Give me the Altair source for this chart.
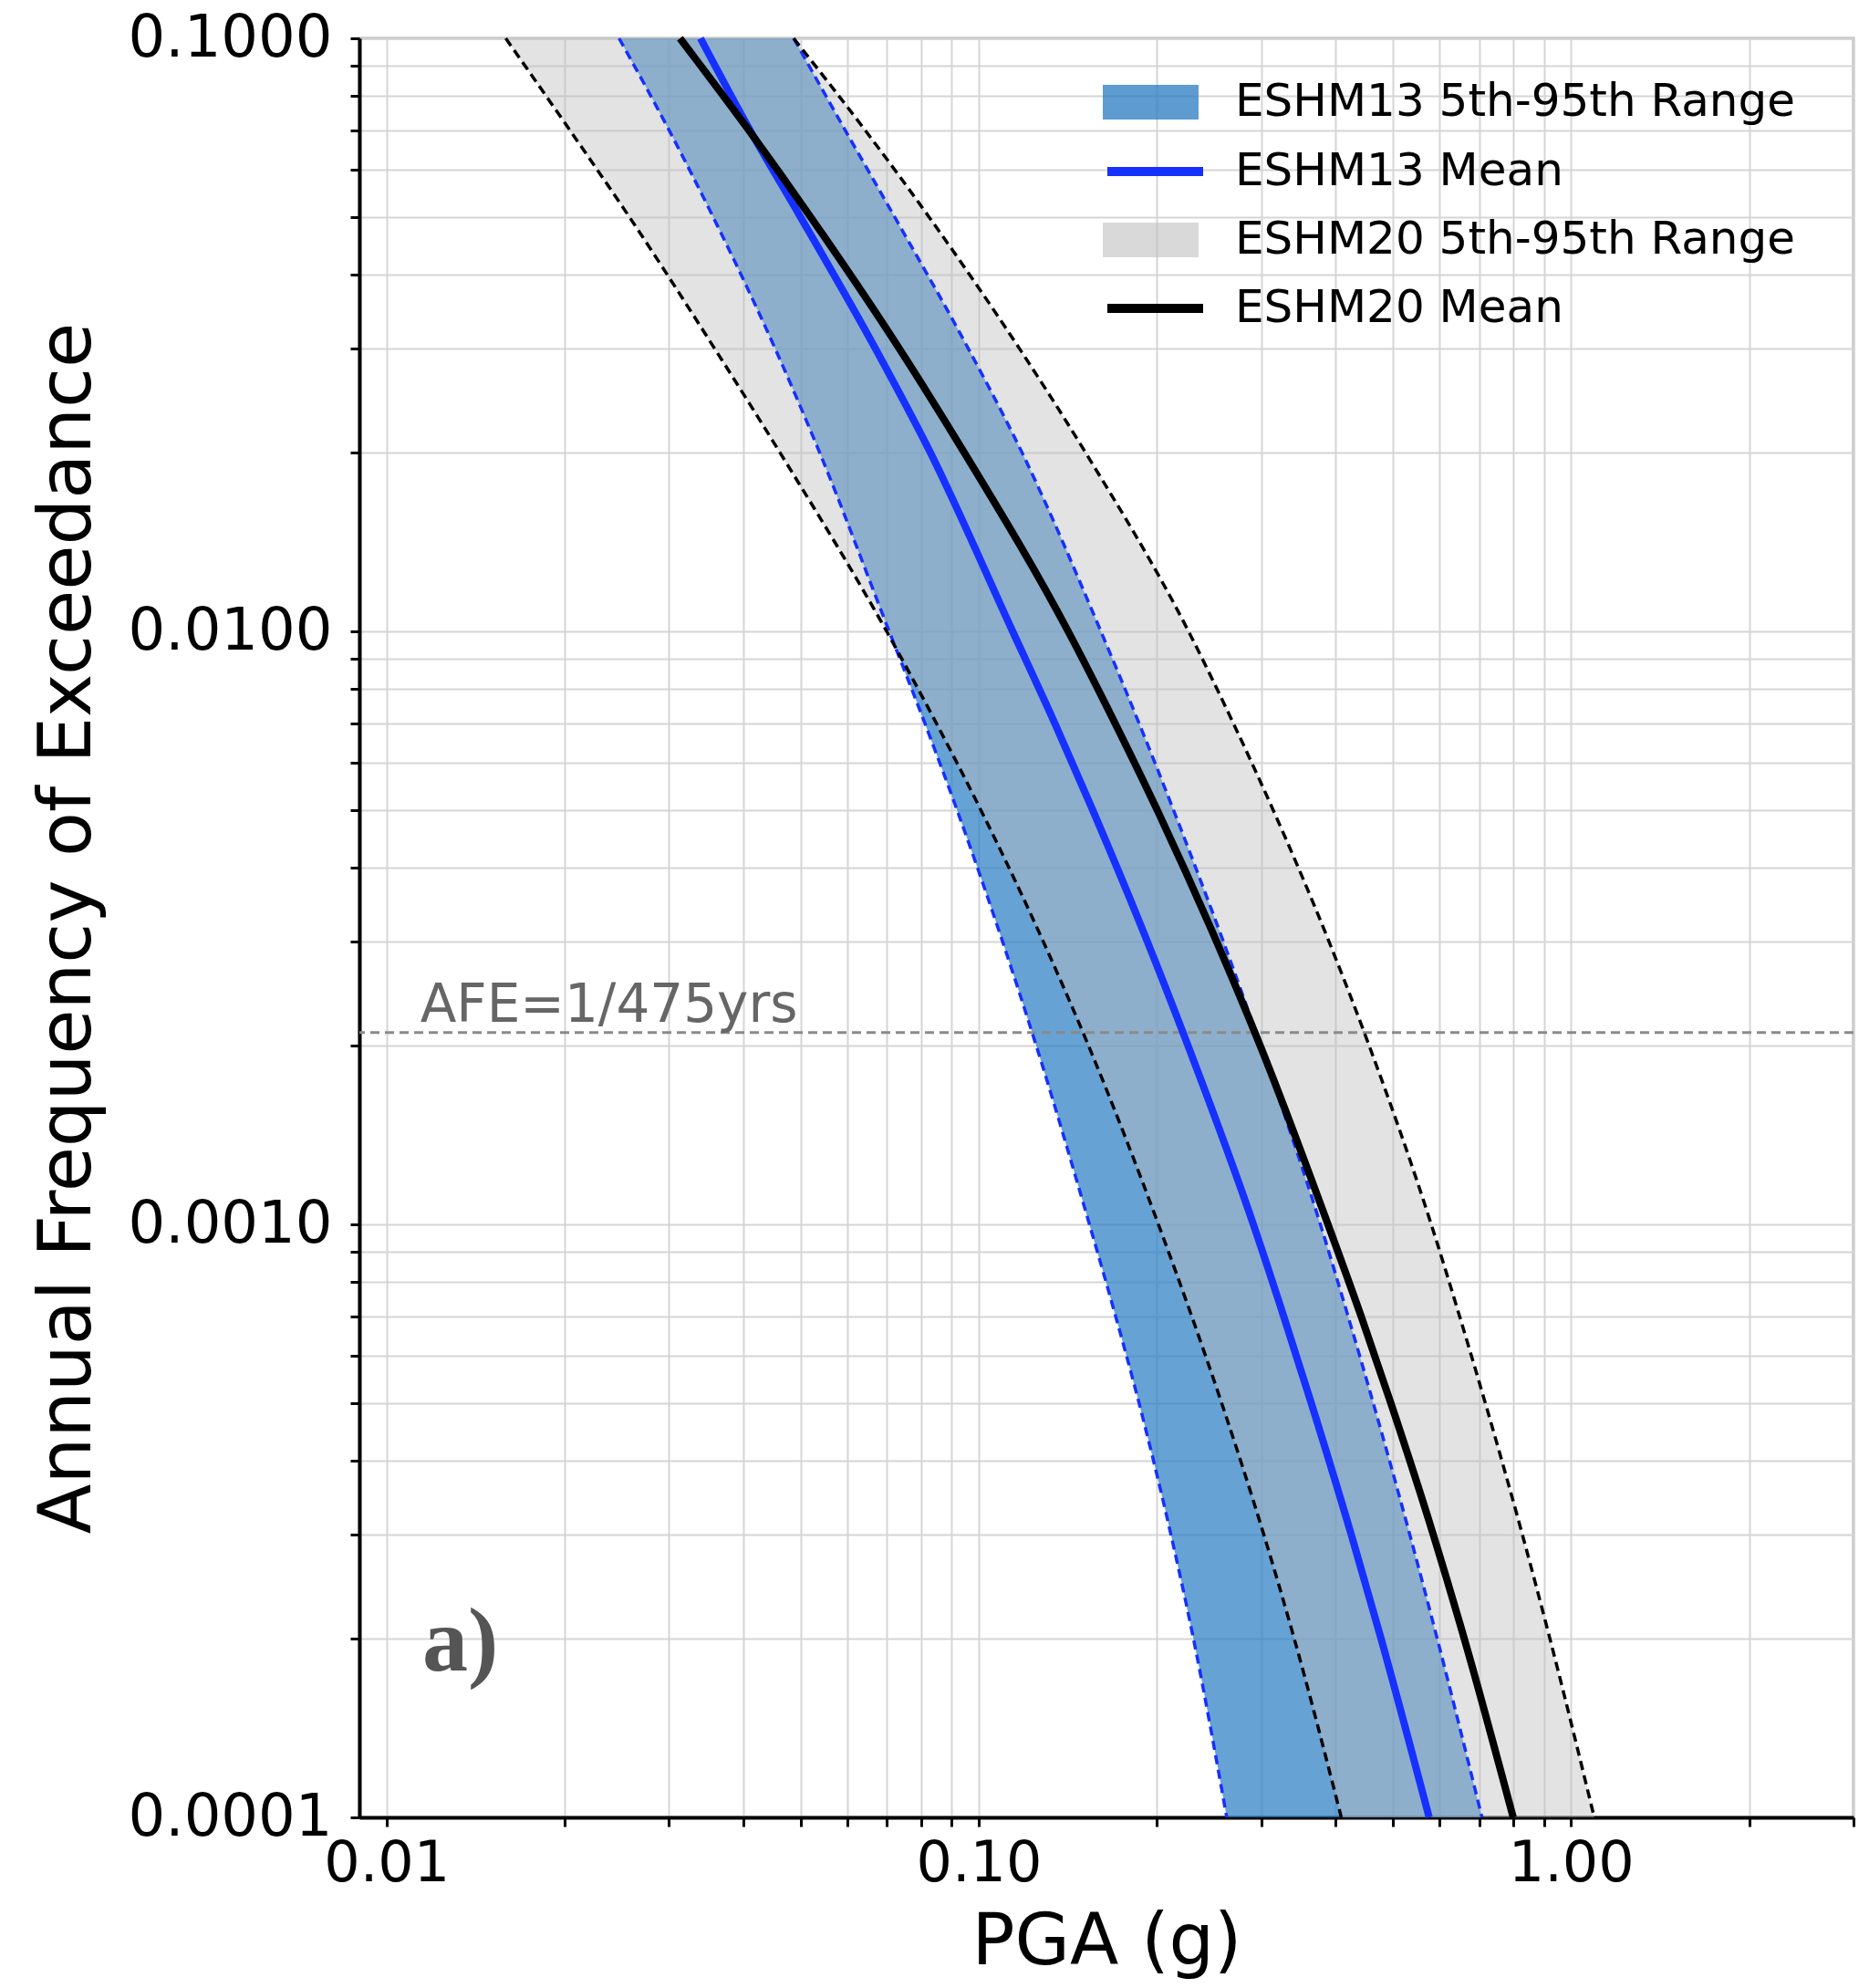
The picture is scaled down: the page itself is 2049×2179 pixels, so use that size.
import altair as alt
import pandas as pd

# ---------------- data ----------------
AFE = [0.1, 0.07, 0.05, 0.03, 0.02, 0.01, 0.007, 0.005, 0.003, 0.002,
       0.001, 0.0007, 0.0005, 0.0003, 0.0002, 0.0001]

ESHM13_P05 = [0.0247, 0.0300, 0.0356, 0.0453, 0.0539, 0.0706, 0.0811, 0.0919, 0.1097, 0.1251,
              0.1538, 0.1703, 0.1865, 0.2111, 0.2305, 0.2623]
ESHM13_MEAN = [0.0339, 0.0411, 0.0500, 0.0669, 0.0829, 0.1141, 0.1344, 0.1557, 0.1926, 0.2257,
               0.2909, 0.3273, 0.3643, 0.4256, 0.4781, 0.5763]
ESHM13_P95 = [0.0487, 0.0595, 0.0721, 0.0960, 0.1184, 0.1608, 0.1865, 0.2132, 0.2588, 0.2992,
              0.3775, 0.4204, 0.4636, 0.5343, 0.5947, 0.7076]

ESHM20_P05 = [0.0159, 0.0204, 0.0257, 0.0358, 0.0462, 0.0699, 0.0848, 0.1008, 0.1285, 0.1533,
              0.2011, 0.2289, 0.2571, 0.3029, 0.3411, 0.4095]
ESHM20_MEAN = [0.0313, 0.0409, 0.0520, 0.0734, 0.0946, 0.1416, 0.1699, 0.2001, 0.2521, 0.2988,
               0.3888, 0.4423, 0.4963, 0.5854, 0.6607, 0.7990]
ESHM20_P95 = [0.0487, 0.0643, 0.0824, 0.1171, 0.1516, 0.2261, 0.2691, 0.3141, 0.3903, 0.4565,
              0.5809, 0.6486, 0.7167, 0.8278, 0.9217, 1.095]

AFE_475 = [0.0021053]          # 1/475 yrs
AFE_LABEL = ["AFE=1/475yrs"]
AFE_LABEL_POS = [0.0114]        # PGA where the label starts
PANEL_LABEL = ["a)"]
PANEL_POS_X = [0.0115]
PANEL_POS_Y = [0.000177]

LEGEND_LABELS = ["ESHM13 5th-95th Range", "ESHM13 Mean", "ESHM20 5th-95th Range", "ESHM20 Mean"]

X_TICKS = [0.01, 0.02, 0.03, 0.04, 0.05, 0.06, 0.07, 0.08, 0.09,
           0.1, 0.2, 0.3, 0.4, 0.5, 0.6, 0.7, 0.8, 0.9, 1, 2, 3]
Y_TICKS = [0.0001, 0.0002, 0.0003, 0.0004, 0.0005, 0.0006, 0.0007, 0.0008, 0.0009,
           0.001, 0.002, 0.003, 0.004, 0.005, 0.006, 0.007, 0.008, 0.009,
           0.01, 0.02, 0.03, 0.04, 0.05, 0.06, 0.07, 0.08, 0.09, 0.1]

n = len(AFE)
bands13 = pd.DataFrame({"AFE": AFE, "lo": ESHM13_P05, "hi": ESHM13_P95,
                        "band": [LEGEND_LABELS[0]] * n})
bands20 = pd.DataFrame({"AFE": AFE, "lo": ESHM20_P05, "hi": ESHM20_P95,
                        "band": [LEGEND_LABELS[2]] * n})
edges13 = pd.DataFrame({"AFE": AFE * 2, "PGA": ESHM13_P05 + ESHM13_P95,
                        "edge": ["p05"] * n + ["p95"] * n})
edges20 = pd.DataFrame({"AFE": AFE * 2, "PGA": ESHM20_P05 + ESHM20_P95,
                        "edge": ["p05"] * n + ["p95"] * n})
mean13 = pd.DataFrame({"AFE": AFE, "PGA": ESHM13_MEAN, "series": [LEGEND_LABELS[1]] * n})
mean20 = pd.DataFrame({"AFE": AFE, "PGA": ESHM20_MEAN, "series": [LEGEND_LABELS[3]] * n})
rule_df = pd.DataFrame({"AFE": AFE_475})
afe_text = pd.DataFrame({"PGA": AFE_LABEL_POS, "AFE": AFE_475, "label": AFE_LABEL})
panel_text = pd.DataFrame({"PGA": PANEL_POS_X, "AFE": PANEL_POS_Y, "label": PANEL_LABEL})

# ---------------- scales / axes ----------------
xs = alt.Scale(type="log", domain=[0.009, 3], nice=False)
ys = alt.Scale(type="log", domain=[0.0001, 0.1], nice=False)

xaxis = alt.Axis(
    title="PGA (g)", values=X_TICKS,
    labelExpr="indexof([0.01, 0.1, 1], datum.value) >= 0 ? format(datum.value, '.2f') : ''",
    tickSize=10, labelFontSize=62, titleFontSize=78, labelPadding=10, titlePadding=17,
    labelOverlap=False, labelFlush=False, grid=True,
)
yaxis = alt.Axis(
    title="Annual Frequency of Exceedance", values=Y_TICKS,
    labelExpr="indexof([0.0001, 0.001, 0.01, 0.1], datum.value) >= 0 ? format(datum.value, '.4f') : ''",
    tickSize=10, labelFontSize=64, titleFontSize=80, labelPadding=20,
    titleX=-279, titleBaseline="bottom",
    labelLimit=400, labelOverlap=False, labelFlush=False, grid=True,
)


def X(field):
    return alt.X(field, type="quantitative", scale=xs, axis=xaxis)


def Y(field):
    return alt.Y(field, type="quantitative", scale=ys, axis=yaxis)


RECT_PATH = "M-1,-0.362H1V0.362H-1Z"


def make_legend(y, kind, opacity=1.0):
    common = dict(
        title=None, orient="none", legendX=815, legendY=y, symbolSize=11025,
        labelFontSize=50, labelFont="DejaVu Sans", labelColor="black", labelLimit=1000,
        clipHeight=40, padding=0, symbolOpacity=opacity,
    )
    if kind == "band":
        return alt.Legend(symbolType=RECT_PATH, symbolStrokeWidth=0, labelOffset=40, **common)
    return alt.Legend(symbolType="stroke", symbolStrokeWidth=10, labelOffset=30, **common)


# ---------------- layers ----------------
band13 = alt.Chart(bands13).mark_area(
    opacity=0.7, interpolate="monotone", orient="horizontal"
).encode(
    y=Y("AFE"), x=X("lo"), x2="hi",
    fill=alt.Fill("band:N", scale=alt.Scale(domain=[LEGEND_LABELS[0]], range=["#277ac2"]),
                  legend=make_legend(50, "band", 0.75)),
)

band20 = alt.Chart(bands20).mark_area(
    opacity=0.44, interpolate="monotone", orient="horizontal"
).encode(
    y=Y("AFE"), x=X("lo"), x2="hi",
    fill=alt.Fill("band:N", scale=alt.Scale(domain=[LEGEND_LABELS[2]], range=["#c0c0c0"]),
                  legend=make_legend(201, "band", 0.6)),
)

rule = alt.Chart(rule_df).mark_rule(
    color="#8a8a8a", strokeDash=[10, 6], strokeWidth=3
).encode(y=Y("AFE"))

edge13 = alt.Chart(edges13).mark_line(
    color="#1530ff", strokeDash=[10, 6], strokeWidth=3.5, interpolate="monotone"
).encode(x=X("PGA"), y=Y("AFE"), detail="edge:N")

edge20 = alt.Chart(edges20).mark_line(
    color="#000000", strokeDash=[10, 6], strokeWidth=3.5, interpolate="monotone"
).encode(x=X("PGA"), y=Y("AFE"), detail="edge:N")

mean13_line = alt.Chart(mean13).mark_line(strokeWidth=8, interpolate="monotone").encode(
    x=X("PGA"), y=Y("AFE"),
    stroke=alt.Stroke("series:N", scale=alt.Scale(domain=[LEGEND_LABELS[1]], range=["#1530ff"]),
                      legend=make_legend(126, "line")),
)

mean20_line = alt.Chart(mean20).mark_line(strokeWidth=8, interpolate="monotone").encode(
    x=X("PGA"), y=Y("AFE"),
    stroke=alt.Stroke("series:N", scale=alt.Scale(domain=[LEGEND_LABELS[3]], range=["#000000"]),
                      legend=make_legend(276, "line")),
)

afe_label = alt.Chart(afe_text).mark_text(
    align="left", baseline="alphabetic", dy=-12, fontSize=58, color="#666666", font="DejaVu Sans"
).encode(x=X("PGA"), y=Y("AFE"), text="label:N")

panel_label = alt.Chart(panel_text).mark_text(
    align="left", baseline="alphabetic", fontSize=100, fontWeight="bold",
    color="#555555", font="Liberation Serif"
).encode(x=X("PGA"), y=Y("AFE"), text="label:N")

chart = alt.layer(
    band13, band20, rule, edge13, edge20, mean13_line, mean20_line, afe_label, panel_label
).resolve_scale(
    fill="independent", stroke="independent"
).properties(
    width=1638, height=1950,
    padding={"left": 25, "top": 2, "right": 5, "bottom": 5},
).configure_view(
    stroke="#b3b3b3", strokeWidth=3
).configure_axis(
    domainColor="black", domainWidth=4, tickColor="black", tickWidth=3,
    gridColor="#d5d5d5", gridWidth=2,
    labelFont="DejaVu Sans", titleFont="DejaVu Sans",
    labelColor="black", titleColor="black", titleFontWeight="normal",
)

chart.save("out.html", embed_options={"renderer": "svg", "actions": False})
